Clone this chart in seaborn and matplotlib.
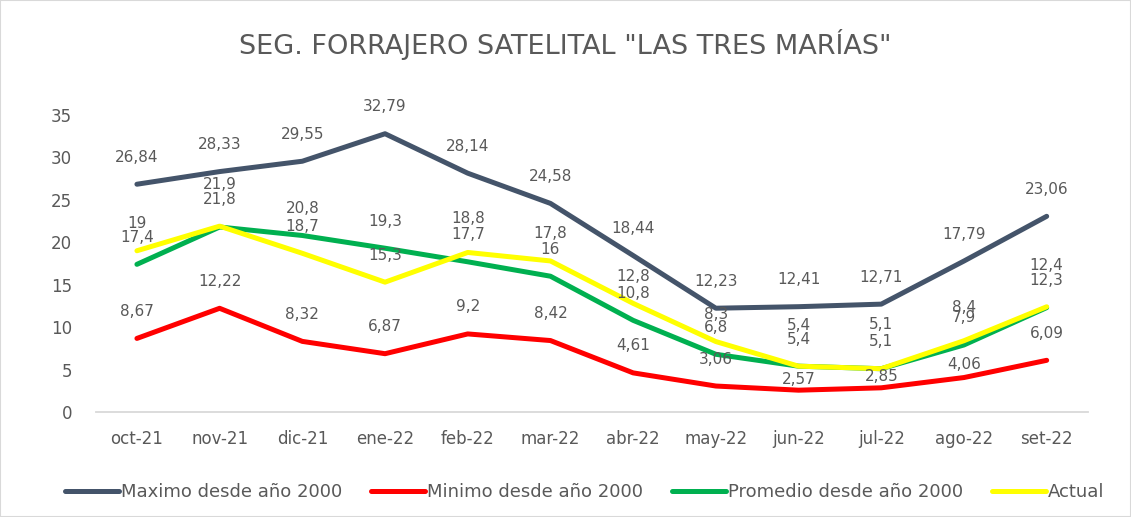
import pandas as pd
import matplotlib.pyplot as plt
import seaborn as sns
from matplotlib.patches import Rectangle

meses = ['oct-21', 'nov-21', 'dic-21', 'ene-22', 'feb-22', 'mar-22',
         'abr-22', 'may-22', 'jun-22', 'jul-22', 'ago-22', 'set-22']
maximo = [26.84, 28.33, 29.55, 32.79, 28.14, 24.58, 18.44, 12.23, 12.41, 12.71, 17.79, 23.06]
minimo = [8.67, 12.22, 8.32, 6.87, 9.2, 8.42, 4.61, 3.06, 2.57, 2.85, 4.06, 6.09]
promedio = [17.4, 21.8, 20.8, 19.3, 17.7, 16, 10.8, 6.8, 5.4, 5.1, 7.9, 12.3]
actual = [19, 21.9, 18.7, 15.3, 18.8, 17.8, 12.8, 8.3, 5.4, 5.1, 8.4, 12.4]

series = [
    ('Maximo desde año 2000', maximo, '#44546A'),
    ('Minimo desde año 2000', minimo, '#FF0000'),
    ('Promedio desde año 2000', promedio, '#00B050'),
    ('Actual', actual, '#FFFF00'),
]

# label distance above the point (pixels), with nudges where labels collide
base_off = 27
nudges = {
    'Actual': {1: 42, 4: 34, 8: 41, 9: 44, 10: 33, 11: 41},
    'Minimo desde año 2000': {8: 11, 9: 11, 10: 13},
}

sns.set_style('white')
plt.rcParams['font.family'] = ['DejaVu Sans']
txt = '#595959'

fig = plt.figure(figsize=(11.31, 5.17), dpi=100)
ax = fig.add_axes([0.0845, 0.2031, 0.8775, 0.5745])

for name, vals, col in series:
    df = pd.DataFrame({'mes': meses, 'valor': vals})
    sns.lineplot(data=df, x='mes', y='valor', sort=False, color=col,
                 linewidth=3.6, label=name, ax=ax)
    for i, v in enumerate(vals):
        off = nudges.get(name, {}).get(i, base_off)
        ax.annotate('{:g}'.format(v).replace('.', ','), (i, v),
                    xytext=(0, off), textcoords='offset pixels',
                    ha='center', va='center', fontsize=11, color=txt,
                    annotation_clip=False)

ax.set_xlim(-0.5, 11.5)
ax.set_ylim(0, 35)
ax.set_yticks(range(0, 36, 5))
ax.set_xlabel('')
ax.set_ylabel('')
for s in ['top', 'right', 'left']:
    ax.spines[s].set_visible(False)
ax.spines['bottom'].set_color('#D9D9D9')
ax.spines['bottom'].set_linewidth(1.3)
ax.tick_params(axis='x', length=0, labelsize=12, labelcolor=txt, pad=13)
ax.tick_params(axis='y', length=0, labelsize=12, labelcolor=txt, pad=17)

ax.legend(loc='center', bbox_to_anchor=(0.517, 0.048), bbox_transform=fig.transFigure,
          ncol=4, frameon=False, fontsize=13, handlelength=3.0, handletextpad=0.1,
          columnspacing=1.6, labelcolor=txt)

fig.text(0.5, 0.913, 'SEG. FORRAJERO SATELITAL "LAS TRES MARÍAS"',
         ha='center', va='center', fontsize=19.5, color=txt)

fig.patches.append(Rectangle((0.0, 0.0), 1.0, 1.0, transform=fig.transFigure,
                             fill=False, edgecolor='#D9D9D9', linewidth=1.5))

fig.savefig('out.png', dpi=100)
